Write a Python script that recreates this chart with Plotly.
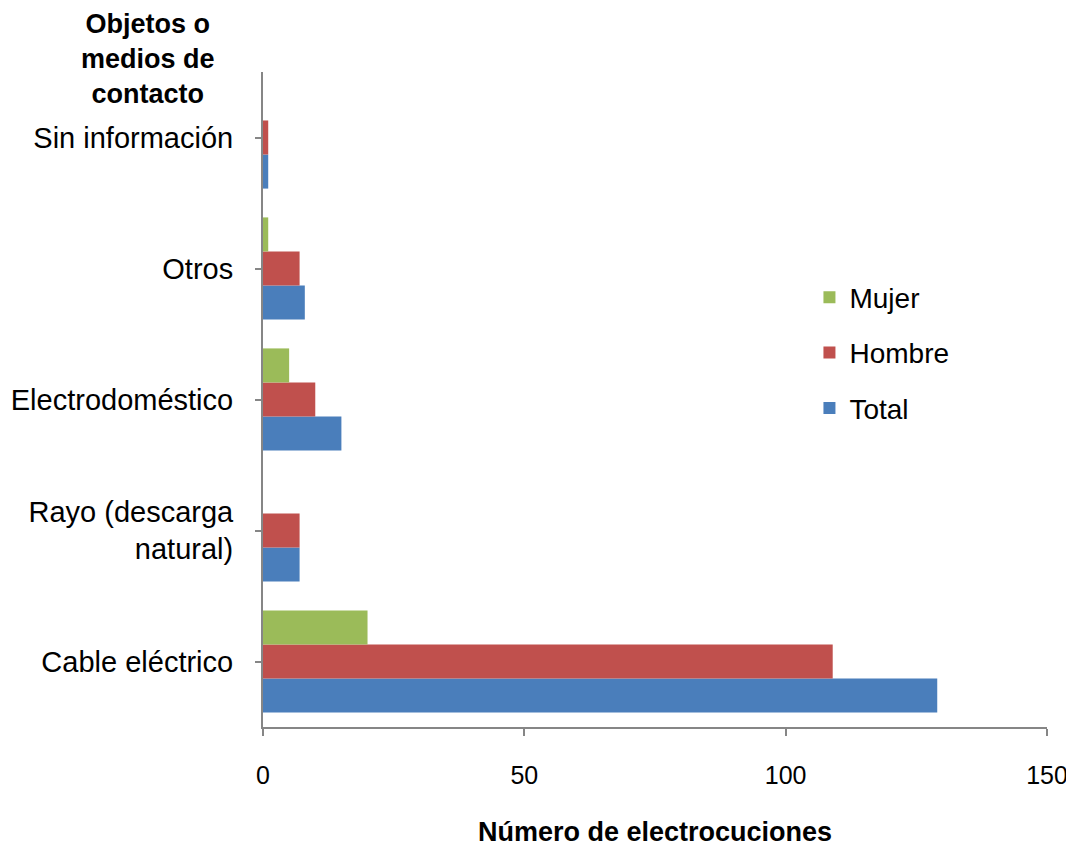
import plotly.graph_objects as go

# Categories (bottom to top) and counts per series
categorias = ["Cable eléctrico", "Rayo (descarga<br>natural)", "Electrodoméstico", "Otros", "Sin información"]
total = [129, 7, 15, 8, 1]
hombre = [109, 7, 10, 7, 1]
mujer = [20, 0, 5, 1, 0]

series = [
    ("Total", total, "#4A7EBB", 3),
    ("Hombre", hombre, "#C0504D", 2),
    ("Mujer", mujer, "#9BBB59", 1),
]

fig = go.Figure()
for nombre, valores, color, rank in series:
    fig.add_trace(go.Bar(
        y=categorias,
        x=valores,
        name=nombre,
        orientation="h",
        marker=dict(color=color, line=dict(width=0)),
        legendgroup=nombre,
        legendrank=rank,
    ))

font_family = "Liberation Sans, Arial"

# the page body adds an 8px margin, so everything sits 8px in from the window edge
fig.update_layout(
    width=1066,
    height=838,
    barmode="group",
    bargap=0.22,
    bargroupgap=0,
    plot_bgcolor="white",
    paper_bgcolor="white",
    margin=dict(l=255, r=27, t=64, b=119, autoexpand=False),
    font=dict(family=font_family, size=29, color="black"),
    legend=dict(
        x=0.697, y=0.694, xanchor="left", yanchor="top",
        traceorder="grouped", tracegroupgap=16,
        font=dict(size=28), bgcolor="rgba(0,0,0,0)",
    ),
)

fig.add_annotation(text="<b>Objetos o<br>medios de<br>contacto</b>",
                   x=-0.147, y=1.02, xref="paper", yref="paper",
                   xanchor="center", yanchor="middle", showarrow=False,
                   font=dict(size=27, family=font_family))
fig.add_annotation(text="<b>Número de electrocuciones</b>",
                   x=0.5, y=-0.161, xref="paper", yref="paper",
                   xanchor="center", yanchor="middle", showarrow=False,
                   font=dict(size=27, family=font_family))

fig.update_xaxes(
    range=[0, 150], tickvals=[0, 50, 100, 150],
    showgrid=False, zeroline=False, automargin=False,
    showline=True, linecolor="#868686", linewidth=2,
    ticks="outside", ticklen=7, tickcolor="#868686", tickwidth=2,
    ticklabelstandoff=18, ticklabeloverflow="allow", tickfont=dict(size=25),
)
fig.update_yaxes(
    range=[-0.5, 4.5],
    showgrid=False, zeroline=False, automargin=False,
    showline=True, linecolor="#868686", linewidth=2,
    ticks="outside", ticklen=6, tickcolor="#868686", tickwidth=2,
    ticklabelstandoff=16,
)

fig.write_html("out.html")
